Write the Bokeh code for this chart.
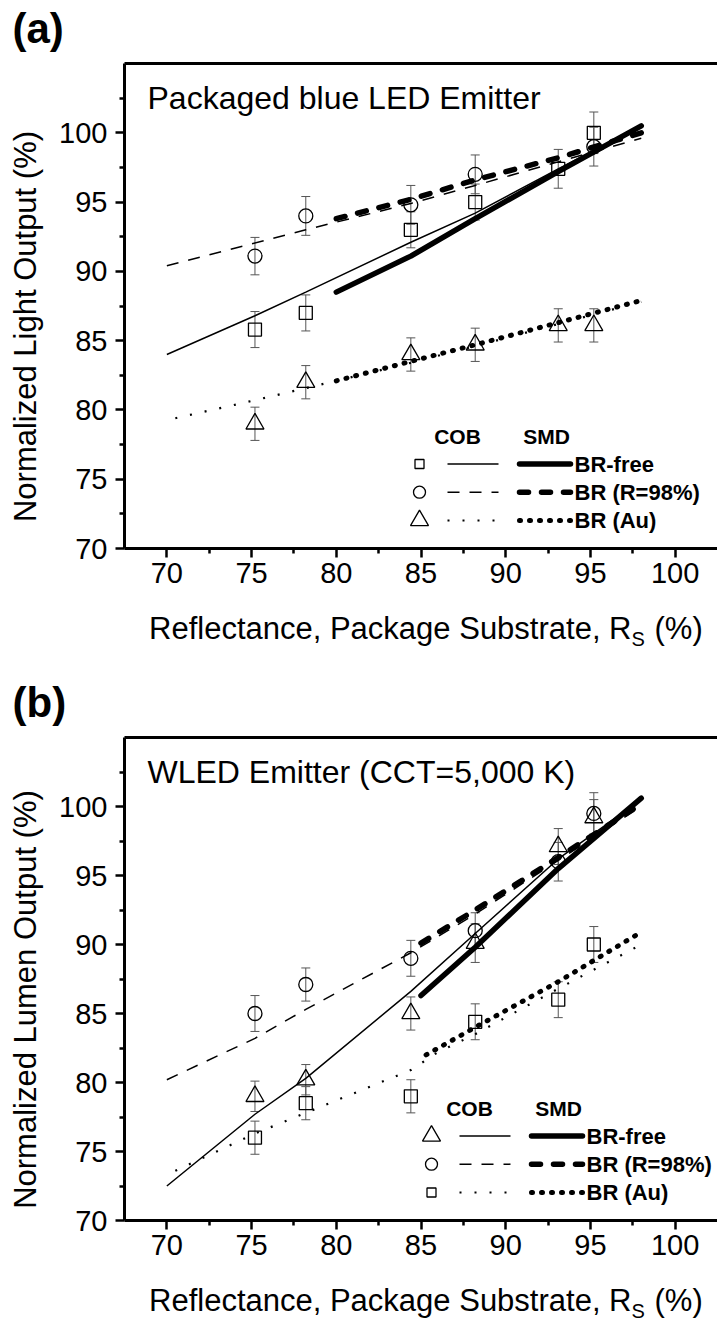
import math
from bokeh.plotting import figure
from bokeh.models import (Label, Whisker, TeeHead, ColumnDataSource, FixedTicker,
                          LinearAxis, Range1d)
from bokeh.layouts import column
from bokeh.embed import file_html
from bokeh.resources import INLINE

# ---------------- data ----------------
RS = [75.2, 78.2, 84.4, 88.2, 93.1, 95.2]          # substrate reflectance (%)

# panel (a): packaged blue LED emitter
a_sq_x = [75.2, 78.2, 84.4, 88.2, 93.1, 95.2]
a_sq_y = [85.8, 87.0, 93.0, 95.0, 97.4, 100.0]
a_sq_e = [1.3, 1.3, 1.3, 1.3, 1.4, 1.5]
a_ci_x = [75.2, 78.2, 84.4, 88.2, 95.2]
a_ci_y = [91.1, 94.0, 94.8, 97.0, 99.0]
a_ci_e = [1.35, 1.4, 1.4, 1.4, 1.4]
a_tr_x = [75.2, 78.2, 84.4, 88.2, 93.1, 95.2]
a_tr_y = [79.0, 82.0, 84.0, 84.7, 86.1, 86.1]
a_tr_e = [1.2, 1.2, 1.2, 1.2, 1.2, 1.2]

a_cob_free_x = [70, 75.2, 78.2, 84.4, 88.2, 93.1, 98]
a_cob_free_y = [84.0, 86.8, 88.5, 92.1, 94.2, 97.4, 100.5]
a_smd_free_x = [80, 84.4, 88.2, 93.1, 98]
a_smd_free_y = [88.5, 91.1, 93.8, 97.2, 100.5]
a_cob_98_x = [70, 78.2, 84.4, 88.2, 93.1, 98]
a_cob_98_y = [90.4, 93.0, 94.9, 96.2, 97.9, 99.6]
a_smd_98_x = [80, 84.4, 88.2, 93.1, 98]
a_smd_98_y = [93.8, 95.2, 96.6, 98.2, 100.0]
a_cob_au_x = [70.5, 75.2, 80, 84.4, 88.2, 93.1, 98]
a_cob_au_y = [79.4, 80.7, 82.1, 83.4, 84.6, 86.2, 87.8]
a_smd_au_x = [80, 84.4, 88.2, 93.1, 98]
a_smd_au_y = [82.1, 83.5, 84.7, 86.3, 87.9]

# panel (b): WLED emitter
b_tr_x = [75.2, 78.2, 84.4, 88.2, 93.1, 95.2]
b_tr_y = [79.0, 80.2, 85.0, 90.1, 97.1, 99.2]
b_tr_e = [1.1, 1.1, 1.2, 1.4, 1.3, 1.3]
b_ci_x = [75.2, 78.2, 84.4, 88.2, 93.1, 95.2]
b_ci_y = [85.0, 87.1, 89.0, 91.0, 96.0, 99.5]
b_ci_e = [1.3, 1.2, 1.3, 1.3, 1.4, 1.5]
b_sq_x = [75.2, 78.2, 84.4, 88.2, 93.1, 95.2]
b_sq_y = [76.0, 78.5, 79.0, 84.4, 86.0, 90.0]
b_sq_e = [1.2, 1.2, 1.2, 1.3, 1.3, 1.3]

b_cob_free_x = [70, 75.2, 78.2, 84.4, 88.2, 93.1, 98]
b_cob_free_y = [72.5, 77.7, 80.3, 86.6, 90.8, 96.2, 100.5]
b_smd_free_x = [85, 88.2, 93.1, 98]
b_smd_free_y = [86.3, 89.8, 95.5, 100.6]
b_cob_98_x = [70, 75.2, 78.2, 84.4, 88.2, 93.1, 98]
b_cob_98_y = [80.2, 83.2, 85.3, 89.4, 92.2, 96.1, 100.0]
b_smd_98_x = [85, 88.2, 93.1, 98]
b_smd_98_y = [90.1, 92.5, 96.3, 100.2]
b_cob_au_x = [70.5, 75.2, 78.2, 84.4, 86, 88.2, 93.1, 98]
b_cob_au_y = [73.6, 76.3, 77.8, 80.9, 82.2, 83.5, 86.8, 90.0]
b_smd_au_x = [85.3, 88.2, 93.1, 98]
b_smd_au_y = [82.0, 84.0, 87.3, 90.9]

x_major = [70, 75, 80, 85, 90, 95, 100]
x_minor = [72.5, 77.5, 82.5, 87.5, 92.5, 97.5]
y_major = [70, 75, 80, 85, 90, 95, 100]
y_minor = [72.5, 77.5, 82.5, 87.5, 92.5, 97.5, 102.5]

# ---------------- styling ----------------
FONT = "Liberation Sans"
W = 717
LEFT = 124          # pixel column of the y axis
TOP = 63            # pixel row of the top border
XLO, XHI = 67.5, 102.5
YLO, YHI = 70, 105
BLACK = "#000000"
EBAR = "#555555"

STY = {
    "cob_free": dict(line_width=1.5),
    "smd_free": dict(line_width=5.5, line_cap="round"),
    "cob_98": dict(line_width=1.5, line_dash="12 10"),
    "smd_98": dict(line_width=5.5, line_dash="9 13", line_cap="round"),
    "cob_au": dict(line_width=2.2, line_dash="2 13"),
    "smd_au": dict(line_width=5, line_dash="1 9", line_cap="round"),
}


def make_panel(height, bottom_px, tag, inner_text, ylabel, ylabel_py, pts, lines,
               legend_markers, legend_dx):
    ux = (W - LEFT) / (XHI - XLO)
    uy = (bottom_px - TOP) / (YHI - YLO)
    x0 = XLO - LEFT / ux
    x1 = XHI
    y0 = YLO - (height - bottom_px) / uy
    y1 = YHI + TOP / uy

    def px2x(px):
        return x0 + px / ux

    def px2y(py):
        return y1 - py / uy

    p = figure(width=W, height=height, x_range=Range1d(x0, x1), y_range=Range1d(y0, y1),
               output_backend="svg", toolbar_location=None,
               x_axis_location=None, y_axis_location=None,
               min_border_left=0, min_border_right=0, min_border_top=0,
               min_border_bottom=0)
    p.outline_line_color = None
    p.xgrid.visible = False
    p.ygrid.visible = False
    p.background_fill_color = "white"
    p.border_fill_color = "white"

    xax = LinearAxis(fixed_location=YLO, bounds=(XLO, XHI),
                     ticker=FixedTicker(ticks=x_major, minor_ticks=x_minor))
    yax = LinearAxis(fixed_location=XLO, bounds=(YLO, YHI),
                     ticker=FixedTicker(ticks=y_major, minor_ticks=y_minor))
    for ax in (xax, yax):
        ax.axis_line_width = 3
        ax.axis_line_color = BLACK
        ax.major_tick_line_width = 2.5
        ax.minor_tick_line_width = 2.5
        ax.major_tick_line_color = BLACK
        ax.minor_tick_line_color = BLACK
        ax.major_tick_in = 0
        ax.minor_tick_in = 0
        ax.major_tick_out = 9
        ax.minor_tick_out = 5
        ax.major_label_text_font = FONT
        ax.major_label_text_font_size = "29px"
        ax.major_label_text_color = BLACK
    xax.major_label_standoff = 5
    yax.major_label_standoff = 8
    p.add_layout(xax, "below")
    p.add_layout(yax, "left")

    top_axis = LinearAxis(fixed_location=YHI, bounds=(XLO, XHI),
                          ticker=FixedTicker(ticks=[]), axis_line_width=3,
                          axis_line_color=BLACK, major_tick_line_color=None,
                          minor_tick_line_color=None)
    p.add_layout(top_axis, "above")

    # fitted lines
    for (xs, ys, key) in lines:
        p.line(xs, ys, line_color=BLACK, **STY[key])

    # data points with error bars
    for (xs, ys, es, marker, size) in pts:
        src = ColumnDataSource(dict(x=xs, y=ys, lo=[v - e for v, e in zip(ys, es)],
                                    hi=[v + e for v, e in zip(ys, es)]))
        p.add_layout(Whisker(source=src, base="x", lower="lo", upper="hi",
                             line_color=EBAR, line_width=1,
                             upper_head=TeeHead(size=9, line_color=EBAR, line_width=1),
                             lower_head=TeeHead(size=9, line_color=EBAR, line_width=1)))
        p.scatter(xs, ys, marker=marker, size=size, fill_color=None,
                  line_color=BLACK, line_width=1.3)

    # panel tag and inner title
    p.add_layout(Label(x=px2x(12), y=px2y(28), text=tag, text_font=FONT,
                       text_font_size="42px", text_font_style="bold",
                       text_align="left", text_baseline="middle", text_color=BLACK))
    p.add_layout(Label(x=px2x(147), y=px2y(97), text=inner_text, text_font=FONT,
                       text_font_size="32px", text_align="left",
                       text_baseline="middle", text_color=BLACK))

    # axis titles
    p.add_layout(Label(x=px2x(25), y=px2y(ylabel_py), text=ylabel,
                       angle=math.pi / 2, text_font=FONT, text_font_size="31px",
                       text_align="center", text_baseline="middle", text_color=BLACK))
    mid = bottom_px + 80
    p.add_layout(Label(x=px2x(631), y=px2y(mid),
                       text="Reflectance, Package Substrate, R", text_font=FONT,
                       text_font_size="31px", text_align="right",
                       text_baseline="middle", text_color=BLACK))
    p.add_layout(Label(x=px2x(631), y=px2y(mid + 10), text="S", text_font=FONT,
                       text_font_size="20px", text_align="left",
                       text_baseline="middle", text_color=BLACK))
    p.add_layout(Label(x=px2x(654), y=px2y(mid), text="(%)", text_font=FONT,
                       text_font_size="31px", text_align="left",
                       text_baseline="middle", text_color=BLACK))

    # legend (drawn by hand: two line columns)
    dx = legend_dx
    hy = bottom_px - 112
    for txt, cx in (("COB", 457), ("SMD", 546)):
        p.add_layout(Label(x=px2x(cx + dx), y=px2y(hy), text=txt, text_font=FONT,
                           text_font_size="21px", text_font_style="bold",
                           text_align="center", text_baseline="middle", text_color=BLACK))
    rows = [bottom_px - 84.5, bottom_px - 56.3, bottom_px - 28]
    names = ["BR-free", "BR (R=98%)", "BR (Au)"]
    keys = [("cob_free", "smd_free"), ("cob_98", "smd_98"), ("cob_au", "smd_au")]
    for ry, name, (kc, ks), (mk, ms) in zip(rows, names, keys, legend_markers):
        p.scatter([px2x(419 + dx)], [px2y(ry)], marker=mk, size=ms, fill_color=None,
                  line_color=BLACK, line_width=1.3)
        p.line([px2x(447 + dx), px2x(498 + dx)], [px2y(ry), px2y(ry)],
               line_color=BLACK, **STY[kc])
        p.line([px2x(519 + dx), px2x(570 + dx)], [px2y(ry), px2y(ry)],
               line_color=BLACK, **STY[ks])
        p.add_layout(Label(x=px2x(574 + dx), y=px2y(ry), text=name, text_font=FONT,
                           text_font_size="22px", text_font_style="bold",
                           text_align="left", text_baseline="middle", text_color=BLACK))
    return p


pa = make_panel(
    674, 548, "(a)", "Packaged blue LED Emitter", "Normalized Light Output (%)", 326,
    pts=[(a_sq_x, a_sq_y, a_sq_e, "square", 13),
         (a_ci_x, a_ci_y, a_ci_e, "circle", 14),
         (a_tr_x, a_tr_y, a_tr_e, "triangle", 18)],
    lines=[(a_cob_free_x, a_cob_free_y, "cob_free"), (a_smd_free_x, a_smd_free_y, "smd_free"),
           (a_cob_98_x, a_cob_98_y, "cob_98"), (a_smd_98_x, a_smd_98_y, "smd_98"),
           (a_cob_au_x, a_cob_au_y, "cob_au"), (a_smd_au_x, a_smd_au_y, "smd_au")],
    legend_markers=[("square", 9), ("circle", 12), ("triangle", 18)],
    legend_dx=0)

pb = make_panel(
    649, 546, "(b)", "WLED Emitter (CCT=5,000 K)", "Normalized Lumen Output (%)", 325,
    pts=[(b_tr_x, b_tr_y, b_tr_e, "triangle", 18),
         (b_ci_x, b_ci_y, b_ci_e, "circle", 14),
         (b_sq_x, b_sq_y, b_sq_e, "square", 13)],
    lines=[(b_cob_free_x, b_cob_free_y, "cob_free"), (b_smd_free_x, b_smd_free_y, "smd_free"),
           (b_cob_98_x, b_cob_98_y, "cob_98"), (b_smd_98_x, b_smd_98_y, "smd_98"),
           (b_cob_au_x, b_cob_au_y, "cob_au"), (b_smd_au_x, b_smd_au_y, "smd_au")],
    legend_markers=[("triangle", 18), ("circle", 12), ("square", 9)],
    legend_dx=12)

layout = column(pa, pb, spacing=0)
open("out.html", "w").write(file_html(layout, INLINE))
